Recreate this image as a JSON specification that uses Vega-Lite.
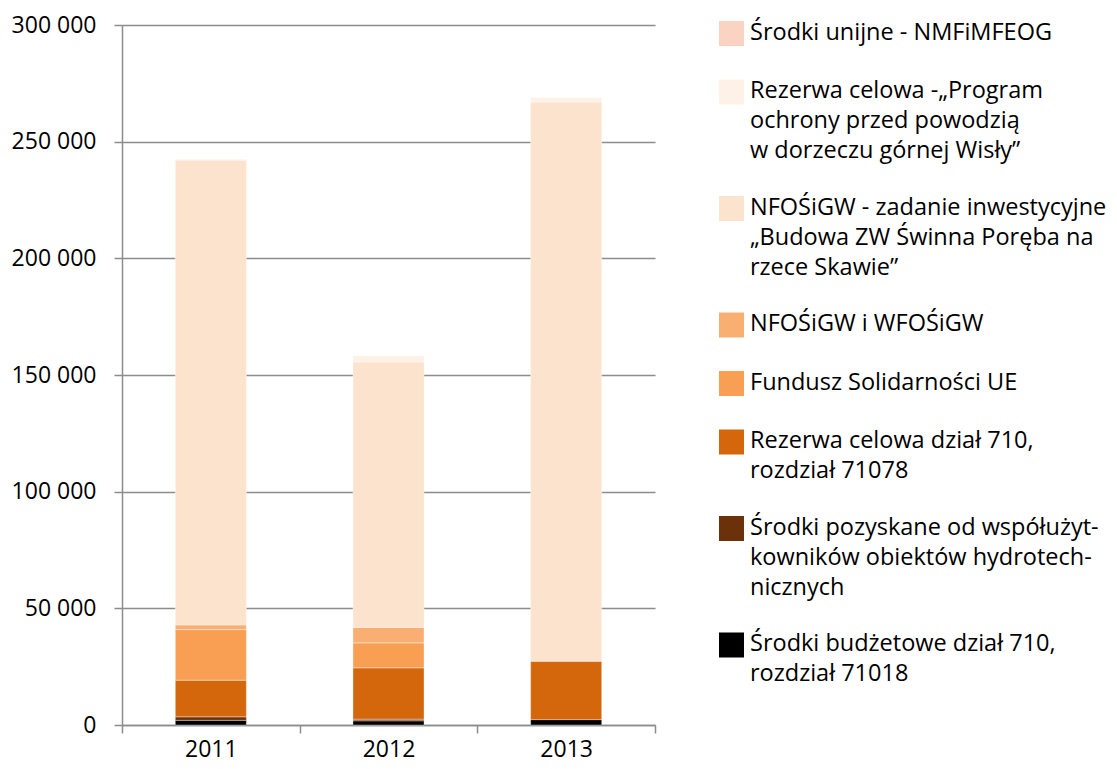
{
  "$schema": "https://vega.github.io/schema/vega-lite/v6.json",
  "autosize": {"type": "none"},
  "width": 533,
  "height": 700,
  "padding": {"left": 122, "top": 25, "right": 462, "bottom": 44},
  "background": "white",
  "config": {
    "view": {"stroke": null},
    "font": "Open Sans",
    "axis": {"labelFont": "Open Sans", "labelColor": "#000000", "labelFontSize": 23},
    "style": {"guide-label": {"lineHeight": 30}}
  },
  "data": {
    "values": [
      {"year": "2011", "source": "Środki budżetowe dział 710,|rozdział 71018", "k": 1, "value": 2000},
      {"year": "2011", "source": "Środki pozyskane od współużyt-|kowników obiektów hydrotech-|nicznych", "k": 2, "value": 1500},
      {"year": "2011", "source": "Rezerwa celowa dział 710,|rozdział 71078", "k": 3, "value": 15700},
      {"year": "2011", "source": "Fundusz Solidarności UE", "k": 4, "value": 21700},
      {"year": "2011", "source": "NFOŚiGW i WFOŚiGW", "k": 5, "value": 2000},
      {"year": "2011", "source": "NFOŚiGW - zadanie inwestycyjne|„Budowa ZW Świnna Poręba na|rzece Skawie”", "k": 6, "value": 199000},
      {"year": "2011", "source": "Środki unijne - NMFiMFEOG", "k": 8, "value": 300},
      {"year": "2012", "source": "Środki budżetowe dział 710,|rozdział 71018", "k": 1, "value": 1800},
      {"year": "2012", "source": "Środki pozyskane od współużyt-|kowników obiektów hydrotech-|nicznych", "k": 2, "value": 700},
      {"year": "2012", "source": "Rezerwa celowa dział 710,|rozdział 71078", "k": 3, "value": 22000},
      {"year": "2012", "source": "Fundusz Solidarności UE", "k": 4, "value": 10700},
      {"year": "2012", "source": "NFOŚiGW i WFOŚiGW", "k": 5, "value": 6600},
      {"year": "2012", "source": "NFOŚiGW - zadanie inwestycyjne|„Budowa ZW Świnna Poręba na|rzece Skawie”", "k": 6, "value": 113800},
      {"year": "2012", "source": "Rezerwa celowa -„Program|ochrony przed powodzią|w dorzeczu górnej Wisły”", "k": 7, "value": 2600},
      {"year": "2013", "source": "Środki budżetowe dział 710,|rozdział 71018", "k": 1, "value": 2300},
      {"year": "2013", "source": "Rezerwa celowa dział 710,|rozdział 71078", "k": 3, "value": 25000},
      {"year": "2013", "source": "NFOŚiGW - zadanie inwestycyjne|„Budowa ZW Świnna Poręba na|rzece Skawie”", "k": 6, "value": 239700},
      {"year": "2013", "source": "Rezerwa celowa -„Program|ochrony przed powodzią|w dorzeczu górnej Wisły”", "k": 7, "value": 1900}
    ]
  },
  "mark": {"type": "bar", "width": {"band": 0.4}, "stroke": "#ffffff", "strokeWidth": 0.6, "strokeOpacity": 0.6},
  "encoding": {
    "x": {
      "field": "year", "type": "nominal",
      "scale": {"paddingInner": 0, "paddingOuter": 0},
      "axis": {
        "title": null, "labelAngle": 0, "tickBand": "extent",
        "domainColor": "#8c8c8c", "domainWidth": 1.5,
        "tickColor": "#8c8c8c", "tickWidth": 1.5, "tickSize": 8,
        "labelPadding": 5, "grid": false
      }
    },
    "y": {
      "field": "value", "type": "quantitative", "stack": "zero",
      "scale": {"domain": [0, 300000], "nice": false},
      "axis": {
        "title": null, "values": [0, 50000, 100000, 150000, 200000, 250000, 300000],
        "labelExpr": "replace(format(datum.value, ','), ',', ' ')",
        "domainColor": "#8c8c8c", "domainWidth": 1.5,
        "tickColor": "#8c8c8c", "tickWidth": 1.5, "tickSize": 8,
        "gridColor": "#8c8c8c", "gridWidth": 1.5, "grid": true,
        "labelPadding": 18
      }
    },
    "order": {"field": "k", "type": "quantitative", "sort": "ascending"},
    "color": {
      "field": "source", "type": "nominal",
      "scale": {
        "domain": [
          "Środki unijne - NMFiMFEOG",
          "Rezerwa celowa -„Program|ochrony przed powodzią|w dorzeczu górnej Wisły”",
          "NFOŚiGW - zadanie inwestycyjne|„Budowa ZW Świnna Poręba na|rzece Skawie”",
          "NFOŚiGW i WFOŚiGW",
          "Fundusz Solidarności UE",
          "Rezerwa celowa dział 710,|rozdział 71078",
          "Środki pozyskane od współużyt-|kowników obiektów hydrotech-|nicznych",
          "Środki budżetowe dział 710,|rozdział 71018"
        ],
        "range": ["#FAD3C3", "#FEF1E6", "#FCE3CD", "#F9AF72", "#F89F54", "#D4660C", "#6B310B", "#000000"]
      },
      "legend": {
        "title": null,
        "orient": "none",
        "legendX": 597,
        "legendY": 2,
        "padding": 0,
        "symbolType": "M-1,-1.48H1V0.52H-1Z",
        "symbolSize": 625,
        "symbolStrokeWidth": 0,
        "symbolOpacity": 1,
        "labelFont": "Open Sans",
        "labelFontSize": 23.5,
        "labelColor": "#000000",
        "labelLimit": 500,
        "labelOffset": 6,
        "labelBaseline": "alphabetic",
        "rowPadding": 32.5,
        "labelExpr": "split(datum.label, '|')"
      }
    }
  }
}
